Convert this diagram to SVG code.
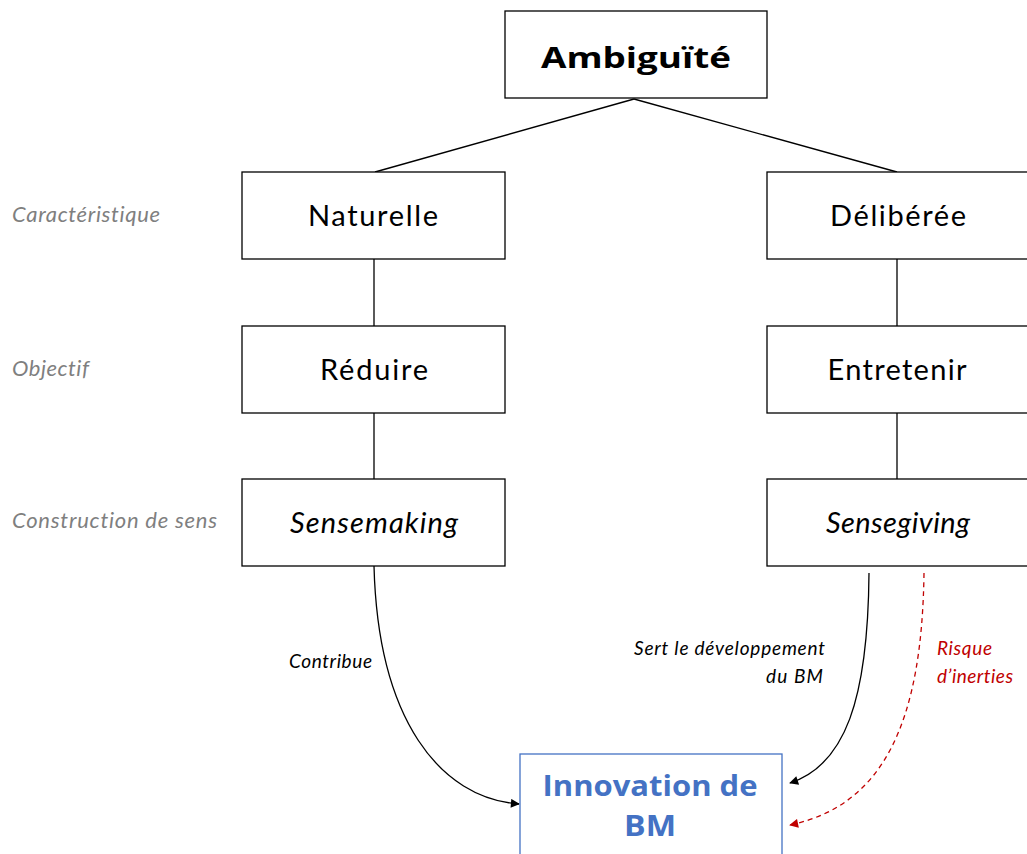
<svg xmlns="http://www.w3.org/2000/svg" width="1027" height="854" viewBox="0 0 1027 854">
<style>
text{font-variant-ligatures:none}
.box{fill:#fff;stroke:#000;stroke-width:1.3}
.t{font-family:Lato,"Open Sans",sans-serif;font-size:29px;fill:#000;text-anchor:middle}
.b{font-family:"Open Sans",Lato,sans-serif;font-weight:bold}
.lab{font-family:Lato,"Open Sans",sans-serif;font-size:22px;font-style:italic;fill:#7f7f7f}
.el{font-family:Lato,"Open Sans",sans-serif;font-size:19px;font-style:italic;fill:#000}
.red{fill:#c00000}
.ln{stroke:#000;stroke-width:1.3;fill:none}
</style>
<defs>
<marker id="ab" viewBox="0 0 10 10" refX="9" refY="5" markerWidth="10" markerHeight="9" orient="auto" markerUnits="userSpaceOnUse"><path d="M0,0L10,5L0,10z" fill="#000"/></marker>
<marker id="ar" viewBox="0 0 10 10" refX="9" refY="5" markerWidth="10" markerHeight="9" orient="auto" markerUnits="userSpaceOnUse"><path d="M0,0L10,5L0,10z" fill="#c00000"/></marker>
</defs>
<g id="labels">
<text class="lab" x="12" y="222" textLength="148" lengthAdjust="spacing">Caractéristique</text>
<text class="lab" x="12" y="376" textLength="77" lengthAdjust="spacing">Objectif</text>
<text class="lab" x="12" y="528" textLength="205" lengthAdjust="spacing">Construction de sens</text>
</g>
<g id="connectors">
<line class="ln" x1="634" y1="99" x2="375" y2="172"/>
<line class="ln" x1="634" y1="99" x2="897" y2="172"/>
<line class="ln" x1="374" y1="259" x2="374" y2="326"/>
<line class="ln" x1="374" y1="413" x2="374" y2="479"/>
<line class="ln" x1="897" y1="259" x2="897" y2="326"/>
<line class="ln" x1="897" y1="413" x2="897" y2="479"/>
<path class="ln" d="M374,566 C378,720 440,798 519,804" marker-end="url(#ab)"/>
<path class="ln" d="M869,573 C868,700 845,765 790,783" marker-end="url(#ab)"/>
<path d="M924,573 C922,720 885,805 790,825" fill="none" stroke="#c00000" stroke-width="1.3" stroke-dasharray="5,4" marker-end="url(#ar)"/>
<text class="el" x="289" y="668" textLength="83" lengthAdjust="spacing">Contribue</text>
<text class="el" x="634" y="655" textLength="191" lengthAdjust="spacing">Sert le développement</text>
<text class="el" x="766" y="683" textLength="57" lengthAdjust="spacing">du BM</text>
<text class="el red" x="937" y="655" textLength="55" lengthAdjust="spacing">Risque</text>
<text class="el red" x="937" y="683" textLength="76" lengthAdjust="spacing">d’inerties</text>
</g>
<g id="ambiguite"><rect class="box" x="505" y="11" width="262" height="87"/><text class="t b" x="636" y="68" font-size="36" textLength="190" lengthAdjust="spacingAndGlyphs">Ambiguïté</text></g>
<g id="naturelle"><rect class="box" x="242" y="172" width="263" height="87"/><text class="t" x="373" y="226" textLength="130" lengthAdjust="spacing">Naturelle</text></g>
<g id="deliberee"><rect class="box" x="767" y="172" width="264" height="87"/><text class="t" x="898" y="226" textLength="136" lengthAdjust="spacing">Délibérée</text></g>
<g id="reduire"><rect class="box" x="242" y="326" width="263" height="87"/><text class="t" x="374" y="380" textLength="108" lengthAdjust="spacing">Réduire</text></g>
<g id="entretenir"><rect class="box" x="767" y="326" width="264" height="87"/><text class="t" x="897" y="380" textLength="139" lengthAdjust="spacing">Entretenir</text></g>
<g id="sensemaking"><rect class="box" x="242" y="479" width="263" height="87"/><text class="t" x="374" y="533" font-style="italic" textLength="168" lengthAdjust="spacing">Sensemaking</text></g>
<g id="sensegiving"><rect class="box" x="767" y="479" width="264" height="87"/><text class="t" x="898" y="533" font-style="italic" textLength="144" lengthAdjust="spacing">Sensegiving</text></g>
<g id="innovation"><rect x="520" y="754" width="262" height="110" fill="#fff" stroke="#4472c4" stroke-width="1.3"/><text class="t b" x="650" y="796" font-size="31" style="fill:#4472c4" textLength="215" lengthAdjust="spacingAndGlyphs">Innovation de</text><text class="t b" x="650" y="836" font-size="31" style="fill:#4472c4" textLength="52" lengthAdjust="spacingAndGlyphs">BM</text></g>
</svg>
